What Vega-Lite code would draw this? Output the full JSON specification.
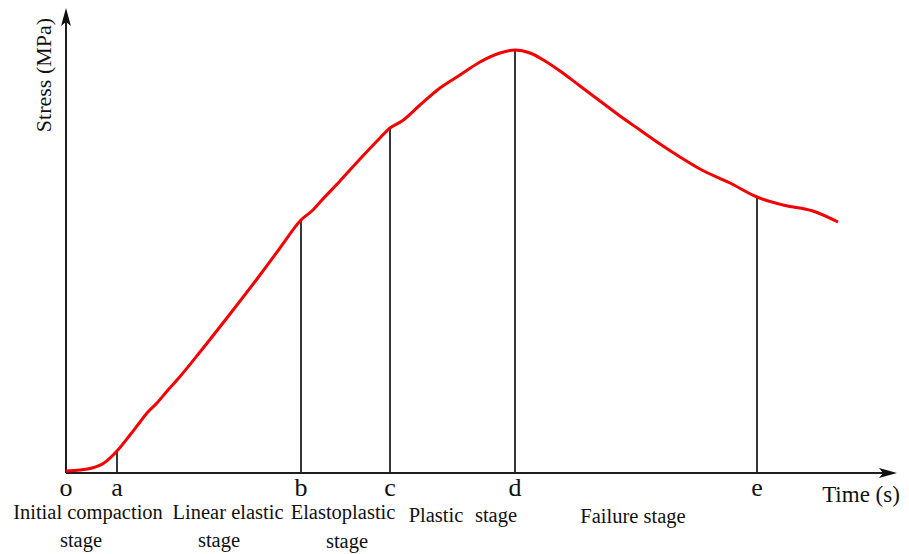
{
  "$schema": "https://vega.github.io/schema/vega-lite/v6.json",
  "width": 909,
  "height": 554,
  "autosize": {"type": "fit", "contains": "padding"},
  "padding": 0,
  "background": "white",
  "config": {"view": {"stroke": null}, "font": "Liberation Serif"},
  "datasets": {
    "axes": [
      {"t": 0, "stress": 0, "t2": 822, "stress2": 0},
      {"t": 0, "stress": 0, "t2": 0, "stress2": 45.6}
    ],
    "arrowX": [{"t": 822, "stress": 0}],
    "arrowY": [{"t": 0, "stress": 45.6}],
    "curve": [
      {"t": 0, "stress": 0.2}, {"t": 14, "stress": 0.3}, {"t": 26, "stress": 0.5},
      {"t": 38, "stress": 1.0}, {"t": 51, "stress": 2.2}, {"t": 64, "stress": 3.8},
      {"t": 74, "stress": 5.1}, {"t": 81, "stress": 6.0}, {"t": 91, "stress": 7.0},
      {"t": 102, "stress": 8.3}, {"t": 111, "stress": 9.3}, {"t": 134, "stress": 12.1},
      {"t": 164, "stress": 15.9}, {"t": 194, "stress": 19.8}, {"t": 214, "stress": 22.5},
      {"t": 235, "stress": 25.3}, {"t": 247, "stress": 26.3}, {"t": 256, "stress": 27.3},
      {"t": 274, "stress": 29.2}, {"t": 294, "stress": 31.4}, {"t": 314, "stress": 33.5},
      {"t": 324, "stress": 34.5}, {"t": 336, "stress": 35.2}, {"t": 354, "stress": 36.8},
      {"t": 374, "stress": 38.5}, {"t": 394, "stress": 39.8}, {"t": 414, "stress": 41.1},
      {"t": 434, "stress": 42.0}, {"t": 449, "stress": 42.3}, {"t": 464, "stress": 42.0},
      {"t": 479, "stress": 41.2}, {"t": 494, "stress": 40.2}, {"t": 514, "stress": 38.7},
      {"t": 534, "stress": 37.2}, {"t": 554, "stress": 35.7}, {"t": 574, "stress": 34.3},
      {"t": 594, "stress": 32.9}, {"t": 614, "stress": 31.6}, {"t": 634, "stress": 30.4},
      {"t": 664, "stress": 29.0}, {"t": 691, "stress": 27.6}, {"t": 717, "stress": 26.8},
      {"t": 747, "stress": 26.2}, {"t": 772, "stress": 25.1}
    ],
    "points": [
      {"label": "o", "t": 0, "stress": 0},
      {"label": "a", "t": 51, "stress": 2.2},
      {"label": "b", "t": 235, "stress": 25.3},
      {"label": "c", "t": 324, "stress": 34.5},
      {"label": "d", "t": 449, "stress": 42.3},
      {"label": "e", "t": 691, "stress": 27.6}
    ],
    "stages": [
      {"text": "Initial compaction", "t": 22, "stress": -4.6},
      {"text": "stage", "t": 15, "stress": -7.4},
      {"text": "Linear elastic", "t": 162, "stress": -4.6},
      {"text": "stage", "t": 153, "stress": -7.4},
      {"text": "Elastoplastic", "t": 277, "stress": -4.6},
      {"text": "stage", "t": 281, "stress": -7.5},
      {"text": "Plastic", "t": 370, "stress": -4.9},
      {"text": "stage", "t": 430, "stress": -4.9},
      {"text": "Failure stage", "t": 567, "stress": -5.0}
    ],
    "xTitle": [{"text": "Time (s)", "t": 795, "stress": -2.9}],
    "yTitle": [{"text": "Stress (MPa)", "t": -22, "stress": 39.8}]
  },
  "encoding": {
    "x": {"field": "t", "type": "quantitative", "scale": {"domain": [-66, 843], "nice": false, "zero": false}, "axis": null},
    "y": {"field": "stress", "type": "quantitative", "scale": {"domain": [-8.1, 47.3], "nice": false, "zero": false}, "axis": null}
  },
  "layer": [
    {
      "data": {"name": "axes"},
      "mark": {"type": "rule", "stroke": "#1e1e1e", "strokeWidth": 2},
      "encoding": {"x2": {"field": "t2"}, "y2": {"field": "stress2"}}
    },
    {
      "data": {"name": "arrowX"},
      "mark": {"type": "point", "shape": "M1,0L-1,-0.55L-0.55,0L-1,0.55Z", "size": 324, "filled": true, "fill": "#111", "stroke": null, "opacity": 1}
    },
    {
      "data": {"name": "arrowY"},
      "mark": {"type": "point", "shape": "M1,0L-1,-0.55L-0.55,0L-1,0.55Z", "size": 324, "angle": -90, "filled": true, "fill": "#111", "stroke": null, "opacity": 1}
    },
    {
      "data": {"name": "points"},
      "transform": [{"filter": "datum.label != 'o'"}],
      "mark": {"type": "rule", "stroke": "#222", "strokeWidth": 1.8},
      "encoding": {"y2": {"datum": 0}}
    },
    {
      "data": {"name": "curve"},
      "mark": {"type": "line", "stroke": "#f50000", "strokeWidth": 3, "interpolate": "monotone"}
    },
    {
      "data": {"name": "points"},
      "mark": {"type": "text", "fontSize": 26, "baseline": "alphabetic", "align": "center", "dy": 23, "color": "#111"},
      "encoding": {"text": {"field": "label"}, "y": {"datum": 0}}
    },
    {
      "data": {"name": "stages"},
      "mark": {"type": "text", "fontSize": 20.5, "baseline": "alphabetic", "align": "center", "color": "#111"},
      "encoding": {"text": {"field": "text"}}
    },
    {
      "data": {"name": "xTitle"},
      "mark": {"type": "text", "fontSize": 23, "baseline": "alphabetic", "align": "center", "color": "#111"},
      "encoding": {"text": {"field": "text"}}
    },
    {
      "data": {"name": "yTitle"},
      "mark": {"type": "text", "fontSize": 22, "baseline": "middle", "align": "center", "angle": 270, "color": "#111"},
      "encoding": {"text": {"field": "text"}}
    }
  ]
}
